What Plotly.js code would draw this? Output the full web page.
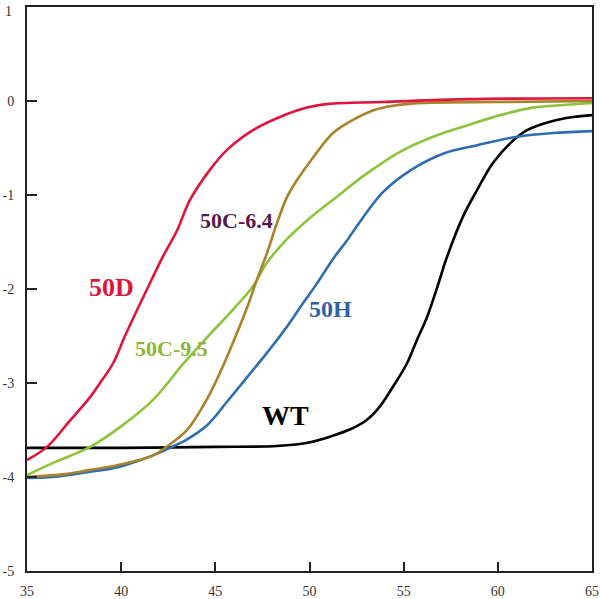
<!DOCTYPE html>
<html>
<head>
<meta charset="utf-8">
<script src="https://cdn.plot.ly/plotly-3.0.1.min.js"></script>
<style>html,body{margin:0;padding:0;background:#fff;}#chart{width:600px;height:599px;}</style>
</head>
<body>
<div id="chart"></div>
<script>
// Series names
const seriesNames = ["50D", "50C-6.4", "50C-9.5", "50H", "WT"];

// 50D (red)
const x50D = [35, 36.06, 37.28, 38.35, 38.88, 39.57, 40.2, 40.9, 41.5, 42.2, 42.96, 43.66, 44.72, 45.62, 47.0, 48.43, 49.87, 51.0, 53.9, 58.4, 65];
const y50D = [-3.82, -3.68, -3.40, -3.15, -3.00, -2.79, -2.50, -2.20, -1.95, -1.66, -1.38, -1.05, -0.73, -0.52, -0.31, -0.17, -0.07, -0.03, -0.01, 0.02, 0.03];

// 50C-6.4 (brown)
const x50C64 = [35, 37, 38.2, 39.9, 41.7, 42.4, 43.5, 44.56, 45.25, 45.94, 46.68, 47.21, 47.74, 48.27, 48.81, 49.34, 50.19, 51.25, 52.31, 53.37, 54.43, 56.0, 60, 65];
const y50C64 = [-4.00, -3.97, -3.93, -3.87, -3.77, -3.68, -3.50, -3.17, -2.89, -2.57, -2.20, -1.90, -1.62, -1.30, -1.02, -0.84, -0.60, -0.34, -0.20, -0.10, -0.05, -0.02, -0.01, 0.0];

// 50C-9.5 (green)
const x50C95 = [35, 36.38, 38.35, 39.94, 41.69, 43.28, 44.72, 45.94, 47.0, 47.74, 48.8, 49.87, 51.25, 53.05, 54.81, 56.56, 58.36, 60.12, 61.87, 63.67, 65];
const y50C95 = [-3.98, -3.85, -3.68, -3.47, -3.18, -2.80, -2.48, -2.22, -1.97, -1.72, -1.47, -1.27, -1.05, -0.77, -0.54, -0.38, -0.26, -0.15, -0.07, -0.04, -0.02];

// 50H (blue)
const x50H = [35, 36.38, 38.19, 39.94, 41.69, 42.59, 43.5, 44.56, 45.62, 46.68, 47.74, 48.81, 49.66, 50.4, 51.25, 52.04, 52.52, 53.9, 55.34, 57.09, 58.9, 61.02, 62.93, 65];
const y50H = [-4.01, -4.00, -3.95, -3.89, -3.77, -3.69, -3.60, -3.45, -3.20, -2.94, -2.68, -2.40, -2.15, -1.94, -1.68, -1.47, -1.33, -0.97, -0.74, -0.56, -0.47, -0.38, -0.34, -0.32];

// WT (black)
const xWT = [35, 40, 45, 48.27, 50.03, 51.25, 52.2, 53.0, 53.7, 54.43, 55.18, 55.71, 56.24, 56.77, 57.30, 58.15, 58.89, 59.74, 60.65, 61.55, 62.77, 63.99, 65];
const yWT = [-3.69, -3.69, -3.68, -3.67, -3.63, -3.56, -3.49, -3.40, -3.26, -3.04, -2.79, -2.54, -2.30, -1.99, -1.66, -1.23, -0.95, -0.66, -0.45, -0.31, -0.22, -0.17, -0.15];

// Tick values
const xTicks = [35, 40, 45, 50, 55, 60, 65];
const yTicks = [1, 0, -1, -2, -3, -4, -5];

const colors = {"50D": "#E0143C", "50C-6.4": "#A8832A", "50C-9.5": "#8CC43C", "50H": "#2E6EB0", "WT": "#000000"};

function tr(x, y, name) {
  return {x: x, y: y, name: name, type: "scatter", mode: "lines",
    line: {color: colors[name], width: 2.6, shape: "spline", smoothing: 1.0}, hoverinfo: "skip"};
}

const data = [
  tr(xWT, yWT, "WT"),
  tr(x50H, y50H, "50H"),
  tr(x50C95, y50C95, "50C-9.5"),
  tr(x50C64, y50C64, "50C-6.4"),
  tr(x50D, y50D, "50D")
];

const lblFont = (size, color) => ({family: "Liberation Serif, Times New Roman, serif", size: size, color: color, weight: "bold"});
const tickFont = {family: "Liberation Serif, serif", size: 14, color: "#333"};

// the top y tick label ("1") sits on the plot edge where Plotly drops it; draw it as text at the same axis value
const topTick = yTicks[0];

const layout = {
  width: 600, height: 599,
  margin: {l: 27, r: 8, t: 7, b: 28, pad: 0},
  paper_bgcolor: "#ffffff", plot_bgcolor: "#ffffff",
  showlegend: false,
  xaxis: {range: [34.999, 65.001], tickvals: xTicks, ticktext: xTicks.map(String),
    ticks: "inside", ticklen: 9, tickwidth: 2, tickcolor: "#222",
    showline: true, linecolor: "#222", linewidth: 2, mirror: true,
    showgrid: false, zeroline: false, ticklabelstandoff: 6,
    tickfont: tickFont},
  yaxis: {range: [-5.0005, 1.0005], tickvals: yTicks, ticktext: yTicks.map(String),
    ticks: "inside", ticklen: 10, tickwidth: 2, tickcolor: "#222",
    showline: true, linecolor: "#222", linewidth: 2, mirror: true,
    showgrid: false, zeroline: false, ticklabelstandoff: 8,
    tickfont: tickFont},
  annotations: [
    {xref: "paper", x: 0, y: topTick, xanchor: "right", yanchor: "middle", xshift: -13, yshift: -4, text: String(topTick), showarrow: false, font: tickFont},
    {x: 39.5, y: -1.98, text: "50D", showarrow: false, font: lblFont(26, "#E0143C")},
    {x: 46.1, y: -1.27, text: "50C-6.4", showarrow: false, font: lblFont(22, "#5A1848")},
    {x: 42.65, y: -2.63, text: "50C-9.5", showarrow: false, font: lblFont(22, "#8DB53A")},
    {x: 51.1, y: -2.21, text: "50H", showarrow: false, font: lblFont(24, "#2F63A3")},
    {x: 48.75, y: -3.35, text: "WT", showarrow: false, font: lblFont(28, "#000000")}
  ]
};

Plotly.newPlot("chart", data, layout, {staticPlot: true, displayModeBar: false});
</script>
</body>
</html>
